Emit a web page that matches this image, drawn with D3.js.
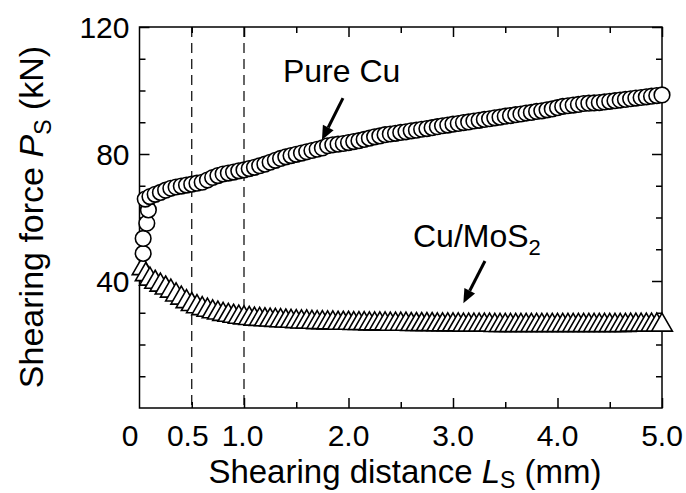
<!DOCTYPE html>
<html>
<head>
<meta charset="utf-8">
<script src="https://cdn.jsdelivr.net/npm/d3@7"></script>
<style>
  html, body { margin: 0; padding: 0; background: #fff; }
  svg { display: block; }
</style>
</head>
<body>
<div id="chart"></div>
<script>
// shearing distance (mm) for the main part of both curves
const distance = [
  0.10,0.15,0.20,0.25,0.30,0.35,0.40,0.45,0.50,0.55,
  0.60,0.65,0.70,0.75,0.80,0.85,0.90,0.95,1.00,1.05,
  1.10,1.15,1.20,1.25,1.30,1.35,1.40,1.45,1.50,1.55,
  1.60,1.65,1.70,1.75,1.80,1.85,1.90,1.95,2.00,2.05,
  2.10,2.15,2.20,2.25,2.30,2.35,2.40,2.45,2.50,2.55,
  2.60,2.65,2.70,2.75,2.80,2.85,2.90,2.95,3.00,3.05,
  3.10,3.15,3.20,3.25,3.30,3.35,3.40,3.45,3.50,3.55,
  3.60,3.65,3.70,3.75,3.80,3.85,3.90,3.95,4.00,4.05,
  4.10,4.15,4.20,4.25,4.30,4.35,4.40,4.45,4.50,4.55,
  4.60,4.65,4.70,4.75,4.80,4.85,4.90,4.95,5.00
];
// shearing force (kN)
const pureCu = [
  66.6,67.3,67.9,68.6,69.2,69.6,69.9,70.2,70.5,70.8,
  71.1,71.8,72.6,73.2,73.7,74.0,74.3,74.7,75.0,75.4,
  75.8,76.3,76.8,77.4,78.0,78.6,79.1,79.5,79.9,80.3,
  80.7,81.1,81.5,81.9,82.6,82.9,83.1,83.3,83.6,83.9,
  84.2,84.6,85.0,85.4,85.7,86.1,86.3,86.5,86.8,87.0,
  87.3,87.5,87.8,88.0,88.3,88.6,88.9,89.1,89.4,89.6,
  89.9,90.1,90.4,90.6,90.9,91.1,91.4,91.6,91.9,92.1,
  92.4,92.6,92.9,93.1,93.4,93.6,93.9,94.2,94.6,95.0,
  95.2,95.4,95.6,95.9,96.0,96.1,96.2,96.4,96.6,96.8,
  97.0,97.2,97.4,97.6,97.8,98.0,98.2,98.4,98.6
];
const cuMoS2 = [
  40.6,39.6,38.7,37.8,36.8,35.6,34.6,33.5,32.6,31.9,
  31.3,30.8,30.3,29.9,29.5,29.2,28.9,28.6,28.4,28.2,
  28.0,27.9,27.8,27.7,27.6,27.5,27.4,27.3,27.2,27.1,
  27.1,27.0,26.9,26.9,26.8,26.8,26.7,26.7,26.7,26.6,
  26.6,26.6,26.5,26.5,26.5,26.5,26.4,26.4,26.4,26.4,
  26.3,26.3,26.3,26.3,26.3,26.2,26.2,26.2,26.2,26.2,
  26.1,26.1,26.1,26.1,26.1,26.1,26.0,26.0,26.0,26.0,
  26.0,26.0,26.0,26.0,26.0,26.0,26.0,26.0,26.0,26.0,
  26.0,26.0,26.0,26.0,26.0,26.0,26.0,26.0,26.0,26.0,
  26.0,26.0,26.1,26.1,26.1,26.1,26.1,26.1,26.1
];
// initial loading points (before 0.1 mm)
const pureCuStartX = [0.035, 0.035, 0.07, 0.085, 0.055];
const pureCuStartY = [48.7, 53.4, 58.2, 62.4, 65.8];
const cuMoS2StartX = [0.03, 0.06];
const cuMoS2StartY = [43.9, 42.0];

const xMajorTicks = [1, 2, 3, 4, 5];
const xMinorTicks = [0.5, 1.5, 2.5, 3.5, 4.5];
const xTickLabels = [0, 0.5, 1, 2, 3, 4, 5];
const yMajorTicks = [40, 80, 120];
const yMinorTicks = [10, 20, 30, 50, 60, 70, 90, 100, 110];
const dashedAt = [0.5, 1.0];

// annotation anchors in data units: [label x, label y, arrow from x, y, arrow to x, y]
const pureCuNote = [1.373, 102.7, 1.947, 97.6, 1.746, 84.4];
const moS2Note = [2.617, 50.7, 3.306, 46.3, 3.099, 33.0];

const W = 686, H = 493;
// no serif face is installed here, so use the Arial-metric one
const font = "'Liberation Sans', Arial, sans-serif";
const svg = d3.select("#chart").append("svg")
  .attr("width", W).attr("height", H)
  .attr("font-family", font)
  .style("background", "#fff");

const x = d3.scaleLinear().domain([0, 5]).range([139.5, 662]);
const y = d3.scaleLinear().domain([0, 120]).range([408, 27]);
const x0 = x(0), x1 = x(5), y0 = y(0), y1 = y(120);

const tickFont = 30;
const titleFont = 33;

// dashed guide lines
svg.selectAll(".guide").data(dashedAt).enter().append("line")
  .attr("x1", d => x(d)).attr("x2", d => x(d))
  .attr("y1", y1).attr("y2", y0)
  .attr("stroke", "#000").attr("stroke-width", 1.2)
  .attr("stroke-dasharray", "10,6");

const styleAxis = (g) => {
  g.attr("font-family", font);
  g.select(".domain").remove();
  g.selectAll("line").attr("stroke", "#000").attr("stroke-width", 1.5);
};
const noText = (g) => g.selectAll("text").remove();

// left
svg.append("g").attr("transform", `translate(${x0},0)`)
  .call(d3.axisLeft(y).tickValues(yMajorTicks).tickSize(-10).tickPadding(10).tickFormat(d3.format("d")))
  .call(styleAxis)
  .call(g => g.selectAll("text").attr("font-size", tickFont).attr("fill", "#000").attr("dy", "0.36em"));
svg.append("g").attr("transform", `translate(${x0},0)`)
  .call(d3.axisLeft(y).tickValues(yMinorTicks).tickSize(-6))
  .call(styleAxis).call(noText);
// right
svg.append("g").attr("transform", `translate(${x1},0)`)
  .call(d3.axisRight(y).tickValues(yMajorTicks).tickSize(-10))
  .call(styleAxis).call(noText);
svg.append("g").attr("transform", `translate(${x1},0)`)
  .call(d3.axisRight(y).tickValues(yMinorTicks).tickSize(-6))
  .call(styleAxis).call(noText);
// bottom
svg.append("g").attr("transform", `translate(0,${y0})`)
  .call(d3.axisBottom(x).tickValues(xMajorTicks).tickSize(-10))
  .call(styleAxis).call(noText);
svg.append("g").attr("transform", `translate(0,${y0})`)
  .call(d3.axisBottom(x).tickValues(xMinorTicks).tickSize(-6))
  .call(styleAxis).call(noText);
// top
svg.append("g").attr("transform", `translate(0,${y1})`)
  .call(d3.axisTop(x).tickValues(xMajorTicks).tickSize(-10))
  .call(styleAxis).call(noText);
svg.append("g").attr("transform", `translate(0,${y1})`)
  .call(d3.axisTop(x).tickValues(xMinorTicks).tickSize(-6))
  .call(styleAxis).call(noText);

// frame
svg.append("rect")
  .attr("x", x0).attr("y", y1)
  .attr("width", x1 - x0).attr("height", y0 - y1)
  .attr("fill", "none").attr("stroke", "#000").attr("stroke-width", 1.5);

// x tick labels (first two pushed left a bit so they don't collide)
const nudge = { 0: -9.5, 0.5: -4, 1: -1.5 };
svg.selectAll(".xlab").data(xTickLabels).enter().append("text")
  .attr("x", d => x(d) + (nudge[d] || 0))
  .attr("y", y0 + 38)
  .attr("text-anchor", "middle")
  .attr("font-size", tickFont)
  .text(d => d === 0 ? "0" : d3.format(".1f")(d));

// markers
const cuPts = pureCuStartX.map((d, i) => ({ x: d, y: pureCuStartY[i] }))
  .concat(distance.map((d, i) => ({ x: d, y: pureCu[i] })));
const moPts = cuMoS2StartX.map((d, i) => ({ x: d, y: cuMoS2StartY[i] }))
  .concat(distance.map((d, i) => ({ x: d, y: cuMoS2[i] })));

svg.append("g").selectAll("path").data(moPts).enter().append("path")
  .attr("transform", d => `translate(${x(d.x)},${y(d.y)})`)
  .attr("d", d3.symbol(d3.symbolTriangle, 187))
  .attr("fill", "#fff").attr("stroke", "#000").attr("stroke-width", 1.6);

svg.append("g").selectAll("circle").data(cuPts).enter().append("circle")
  .attr("cx", d => x(d.x)).attr("cy", d => y(d.y)).attr("r", 7.8)
  .attr("fill", "#fff").attr("stroke", "#000").attr("stroke-width", 1.6);

// arrows
const drawArrow = (n) => {
  const fx = x(n[2]), fy = y(n[3]), tx = x(n[4]), ty = y(n[5]);
  const ang = Math.atan2(ty - fy, tx - fx);
  const len = 14, half = 6;
  const bx = tx - len * Math.cos(ang), by = ty - len * Math.sin(ang);
  svg.append("line")
    .attr("x1", fx).attr("y1", fy).attr("x2", bx).attr("y2", by)
    .attr("stroke", "#000").attr("stroke-width", 3);
  svg.append("path")
    .attr("d", `M${tx},${ty}L${bx + half * Math.sin(ang)},${by - half * Math.cos(ang)}L${bx - half * Math.sin(ang)},${by + half * Math.cos(ang)}Z`)
    .attr("fill", "#000");
};
drawArrow(pureCuNote);
drawArrow(moS2Note);

svg.append("text")
  .attr("x", x(pureCuNote[0])).attr("y", y(pureCuNote[1]))
  .attr("font-size", 32)
  .text("Pure Cu");

const moLabel = svg.append("text")
  .attr("x", x(moS2Note[0])).attr("y", y(moS2Note[1]))
  .attr("font-size", 32);
moLabel.append("tspan").text("Cu/MoS");
moLabel.append("tspan").attr("font-size", 22).attr("dy", 8).text("2");

// axis titles
const xt = svg.append("text")
  .attr("x", 405).attr("y", 483)
  .attr("text-anchor", "middle")
  .attr("font-size", titleFont);
xt.append("tspan").text("Shearing distance ");
xt.append("tspan").attr("font-style", "italic").text("L");
xt.append("tspan").attr("font-size", 23).attr("dy", 5).text("S");
xt.append("tspan").attr("dy", -5).text(" (mm)");

const yt = svg.append("text")
  .attr("transform", "translate(43,217) rotate(-90)")
  .attr("text-anchor", "middle")
  .attr("font-size", 34);
yt.append("tspan").text("Shearing force ");
yt.append("tspan").attr("font-style", "italic").text("P");
yt.append("tspan").attr("font-size", 23).attr("dy", 8).text("S");
yt.append("tspan").attr("dy", -8).text(" (kN)");
</script>
</body>
</html>
